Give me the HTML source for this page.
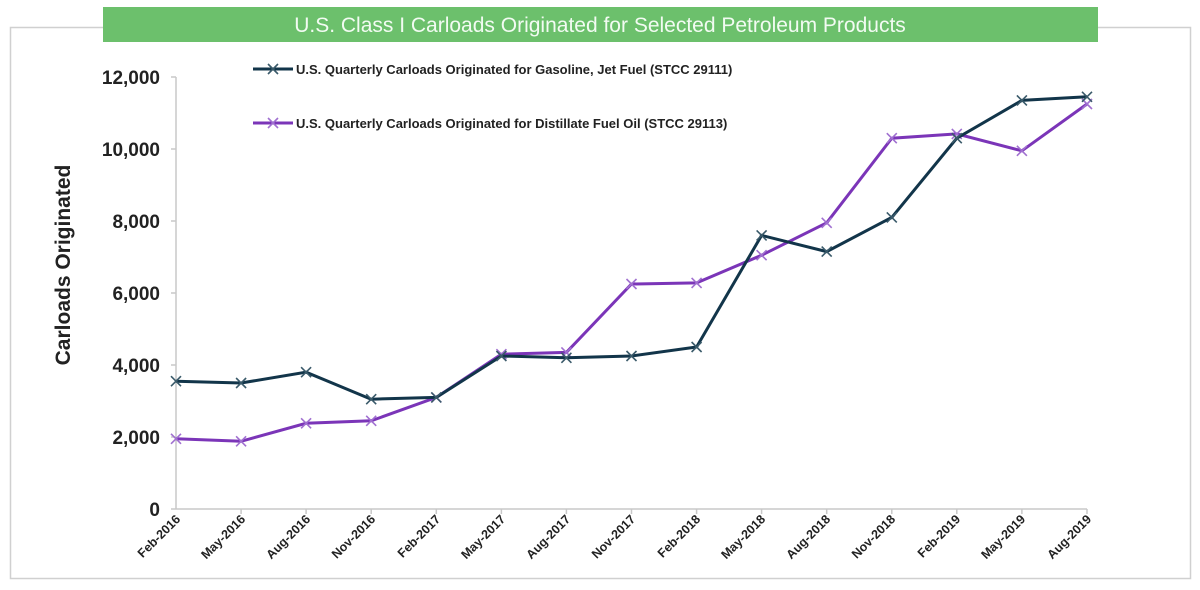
<!DOCTYPE html>
<html><head><meta charset="utf-8"><style>body{margin:0;background:#fff}svg{display:block;font-family:"Liberation Sans",Arial,sans-serif}</style></head><body>
<svg width="1200" height="590" viewBox="0 0 1200 590">
<defs>
<g id="mk"><path d="M-5,-5L5,5M-5,5L5,-5" stroke-width="1.6"/></g>
</defs>
<rect x="10.5" y="27.5" width="1180" height="551" fill="#fff" stroke="#d0d0d0" stroke-width="1.5"/>
<rect x="103" y="7" width="995" height="35" fill="#6cc06c"/>
<text x="600" y="32" text-anchor="middle" font-size="21" fill="#f2fbf2">U.S. Class I Carloads Originated for Selected Petroleum Products</text>
<g stroke="#c8c8c8" stroke-width="1.5">
<line x1="176" y1="77" x2="176" y2="509"/><line x1="171" y1="509" x2="1087" y2="509"/>
<line x1="171" y1="77" x2="176" y2="77"/><line x1="171" y1="149" x2="176" y2="149"/><line x1="171" y1="221" x2="176" y2="221"/><line x1="171" y1="293" x2="176" y2="293"/><line x1="171" y1="365" x2="176" y2="365"/><line x1="171" y1="437" x2="176" y2="437"/>
<path d="M241.1,509v5M306.1,509v5M371.2,509v5M436.3,509v5M501.4,509v5M566.4,509v5M631.5,509v5M696.6,509v5M761.6,509v5M826.7,509v5M891.8,509v5M956.8,509v5M1021.9,509v5M1087,509v5"/>
</g>
<g font-size="19" font-weight="bold" fill="#222" text-anchor="end">
<text x="160" y="84">12,000</text><text x="160" y="156">10,000</text><text x="160" y="228">8,000</text><text x="160" y="300">6,000</text><text x="160" y="372">4,000</text><text x="160" y="444">2,000</text><text x="160" y="516">0</text>
</g>
<text transform="translate(70,265) rotate(-90)" text-anchor="middle" font-size="21" font-weight="bold" fill="#222">Carloads Originated</text>
<g font-size="12.5" font-weight="bold" fill="#222" text-anchor="end">
<text transform="translate(181,520) rotate(-45)">Feb-2016</text>
<text transform="translate(246,520) rotate(-45)">May-2016</text>
<text transform="translate(311,520) rotate(-45)">Aug-2016</text>
<text transform="translate(376,520) rotate(-45)">Nov-2016</text>
<text transform="translate(441,520) rotate(-45)">Feb-2017</text>
<text transform="translate(506,520) rotate(-45)">May-2017</text>
<text transform="translate(571,520) rotate(-45)">Aug-2017</text>
<text transform="translate(636,520) rotate(-45)">Nov-2017</text>
<text transform="translate(701,520) rotate(-45)">Feb-2018</text>
<text transform="translate(766,520) rotate(-45)">May-2018</text>
<text transform="translate(831,520) rotate(-45)">Aug-2018</text>
<text transform="translate(896,520) rotate(-45)">Nov-2018</text>
<text transform="translate(961,520) rotate(-45)">Feb-2019</text>
<text transform="translate(1026,520) rotate(-45)">May-2019</text>
<text transform="translate(1092,520) rotate(-45)">Aug-2019</text>
</g>
<polyline fill="none" stroke="#7b35b8" stroke-width="3" points="176,438.8 241.1,441.3 306.1,423.3 371.2,420.8 436.3,397.4 501.4,354.2 566.4,352.4 631.5,284 696.6,282.9 761.6,255.2 826.7,222.8 891.8,138.2 956.8,133.9 1021.9,150.8 1087,104"/>
<g stroke="#a070d0">
<use href="#mk" x="176" y="438.8"/><use href="#mk" x="241.1" y="441.3"/><use href="#mk" x="306.1" y="423.3"/><use href="#mk" x="371.2" y="420.8"/><use href="#mk" x="436.3" y="397.4"/><use href="#mk" x="501.4" y="354.2"/><use href="#mk" x="566.4" y="352.4"/><use href="#mk" x="631.5" y="284"/><use href="#mk" x="696.6" y="282.9"/><use href="#mk" x="761.6" y="255.2"/><use href="#mk" x="826.7" y="222.8"/><use href="#mk" x="891.8" y="138.2"/><use href="#mk" x="956.8" y="133.9"/><use href="#mk" x="1021.9" y="150.8"/><use href="#mk" x="1087" y="104"/>
</g>
<polyline fill="none" stroke="#12354a" stroke-width="3" points="176,381.2 241.1,383 306.1,372.2 371.2,399.2 436.3,397.4 501.4,356 566.4,357.8 631.5,356 696.6,347 761.6,235.4 826.7,251.6 891.8,217.4 956.8,138.2 1021.9,100.4 1087,96.8"/>
<g stroke="#3a5a6a">
<use href="#mk" x="176" y="381.2"/><use href="#mk" x="241.1" y="383"/><use href="#mk" x="306.1" y="372.2"/><use href="#mk" x="371.2" y="399.2"/><use href="#mk" x="436.3" y="397.4"/><use href="#mk" x="501.4" y="356"/><use href="#mk" x="566.4" y="357.8"/><use href="#mk" x="631.5" y="356"/><use href="#mk" x="696.6" y="347"/><use href="#mk" x="761.6" y="235.4"/><use href="#mk" x="826.7" y="251.6"/><use href="#mk" x="891.8" y="217.4"/><use href="#mk" x="956.8" y="138.2"/><use href="#mk" x="1021.9" y="100.4"/><use href="#mk" x="1087" y="96.8"/>
</g>
<line x1="253" y1="69" x2="293" y2="69" stroke="#12354a" stroke-width="3"/>
<use href="#mk" x="273" y="69" stroke="#3a5a6a"/>
<line x1="253" y1="123" x2="293" y2="123" stroke="#7b35b8" stroke-width="3"/>
<use href="#mk" x="273" y="123" stroke="#a070d0"/>
<g font-size="13" font-weight="bold" fill="#222">
<text x="296" y="74">U.S. Quarterly Carloads Originated for Gasoline, Jet Fuel (STCC 29111)</text>
<text x="296" y="128">U.S. Quarterly Carloads Originated for Distillate Fuel Oil (STCC 29113)</text>
</g>
</svg>
</body></html>
